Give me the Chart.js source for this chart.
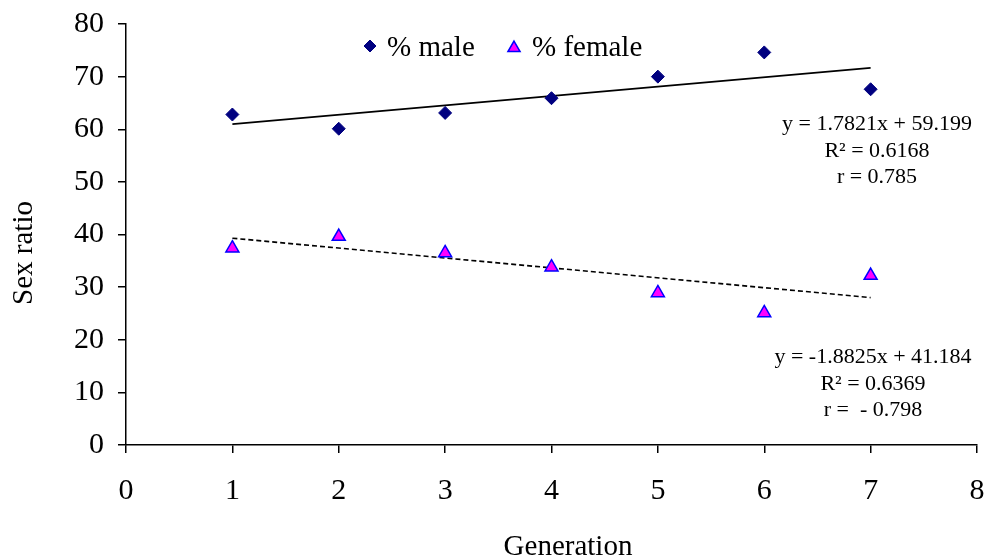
<!DOCTYPE html>
<html>
<head>
<meta charset="utf-8">
<script src="https://cdn.jsdelivr.net/npm/chart.js@4/dist/chart.umd.min.js"></script>
<style>
html,body{margin:0;padding:0;background:#fff;}
#wrap{width:990px;height:558px;}
</style>
</head>
<body>
<div id="wrap"><canvas id="c" width="990" height="558"></canvas></div>
<script>
const generations = [1, 2, 3, 4, 5, 6, 7];
const malePct = [62.8, 60.1, 63.1, 65.9, 70.0, 74.6, 67.6];
const femalePct = [37.4, 39.6, 36.5, 33.8, 28.9, 25.1, 32.2];
const trendX = [1, 7];
const maleTrend = [60.98, 71.67];
const femaleTrend = [39.30, 28.01];
const xTicks = [0, 1, 2, 3, 4, 5, 6, 7, 8];
const yTicks = [0, 10, 20, 30, 40, 50, 60, 70, 80];
const seriesLabels = ['% male', '% female'];
const maleEq = ['y = 1.7821x + 59.199', 'R\u00B2 = 0.6168', 'r = 0.785'];
const femaleEq = ['y = -1.8825x + 41.184', 'R\u00B2 = 0.6369', 'r =  - 0.798'];
const xTitle = 'Generation';
const yTitle = 'Sex ratio';

const SERIF = '"Liberation Serif", "Times New Roman", serif';

function pts(xs, ys) { return xs.map((x, i) => ({x: x, y: ys[i]})); }

const overlay = {
  id: 'overlay',
  afterDraw(chart) {
    const ctx = chart.ctx;
    const H = Chart.helpers;
    ctx.save();
    ctx.fillStyle = '#000';
    // axis titles
    ctx.font = '29px ' + SERIF;
    ctx.textAlign = 'center';
    ctx.textBaseline = 'alphabetic';
    ctx.fillText(xTitle, 568, 555);
    ctx.save();
    ctx.translate(32, 253);
    ctx.rotate(-Math.PI / 2);
    ctx.fillText(yTitle, 0, 0);
    ctx.restore();
    // legend
    const ds0 = chart.data.datasets[0], ds1 = chart.data.datasets[1];
    ctx.fillStyle = ds0.backgroundColor; ctx.strokeStyle = ds0.borderColor; ctx.lineWidth = 1;
    H.drawPoint(ctx, {pointStyle: 'rectRot', radius: 6, borderWidth: 1}, 370, 46);
    ctx.fillStyle = ds1.backgroundColor; ctx.strokeStyle = ds1.borderColor; ctx.lineWidth = 1.5;
    H.drawPoint(ctx, {pointStyle: 'triangle', radius: 7, borderWidth: 1.5}, 514, 48);
    ctx.fillStyle = '#000';
    ctx.font = '29px ' + SERIF;
    ctx.textAlign = 'left';
    ctx.fillText(seriesLabels[0], 387, 56);
    ctx.fillText(seriesLabels[1], 532, 56);
    // equations
    ctx.font = '22px ' + SERIF;
    ctx.textAlign = 'center';
    const mb = [130, 157, 183];
    maleEq.forEach((t, i) => ctx.fillText(t, 877, mb[i]));
    const fb = [363, 390, 416];
    femaleEq.forEach((t, i) => ctx.fillText(t, 873, fb[i]));
    ctx.restore();
  }
};

new Chart(document.getElementById('c'), {
  type: 'scatter',
  data: {
    datasets: [
      {label: seriesLabels[0], data: pts(generations, malePct), pointStyle: 'rectRot', pointRadius: 6.5,
       backgroundColor: '#000080', borderColor: '#000080', borderWidth: 1, showLine: false, order: 1},
      {label: seriesLabels[1], data: pts(generations, femalePct), pointStyle: 'triangle', pointRadius: 7.5,
       backgroundColor: '#FF00FF', borderColor: '#0000FF', borderWidth: 1.5, showLine: false, order: 1},
      {label: 'male trend', data: pts(trendX, maleTrend), showLine: true, pointRadius: 0,
       borderColor: '#000', borderWidth: 1.6, fill: false, order: 2},
      {label: 'female trend', data: pts(trendX, femaleTrend), showLine: true, pointRadius: 0,
       borderColor: '#000', borderWidth: 1.6, borderDash: [5, 3], fill: false, order: 2}
    ]
  },
  options: {
    responsive: false,
    animation: false,
    devicePixelRatio: 1,
    layout: {padding: {left: 0, right: 13, top: 24, bottom: 0}},
    plugins: {legend: {display: false}, tooltip: {enabled: false}},
    scales: {
      x: {
        type: 'linear', min: 0, max: 8,
        afterBuildTicks(s) { s.ticks = xTicks.map(v => ({value: v})); },
        afterFit(s) { s.height = 113; s.paddingLeft = 0; s.paddingRight = 0; },
        grid: {display: true, drawOnChartArea: false, drawTicks: true, tickLength: 8, color: '#000', lineWidth: 1.5},
        border: {display: true, color: '#000', width: 1.5},
        ticks: {color: '#000', font: {family: SERIF, size: 30}, padding: 20, maxRotation: 0}
      },
      y: {
        type: 'linear', min: 0, max: 80,
        afterBuildTicks(s) { s.ticks = yTicks.map(v => ({value: v})); },
        afterFit(s) { s.width = 126; s.paddingTop = 0; s.paddingBottom = 0; },
        grid: {display: true, drawOnChartArea: false, drawTicks: true, tickLength: 8, color: '#000', lineWidth: 1.5},
        border: {display: true, color: '#000', width: 1.5},
        ticks: {color: '#000', font: {family: SERIF, size: 30}, padding: 14}
      }
    }
  },
  plugins: [overlay]
});
</script>
</body>
</html>
